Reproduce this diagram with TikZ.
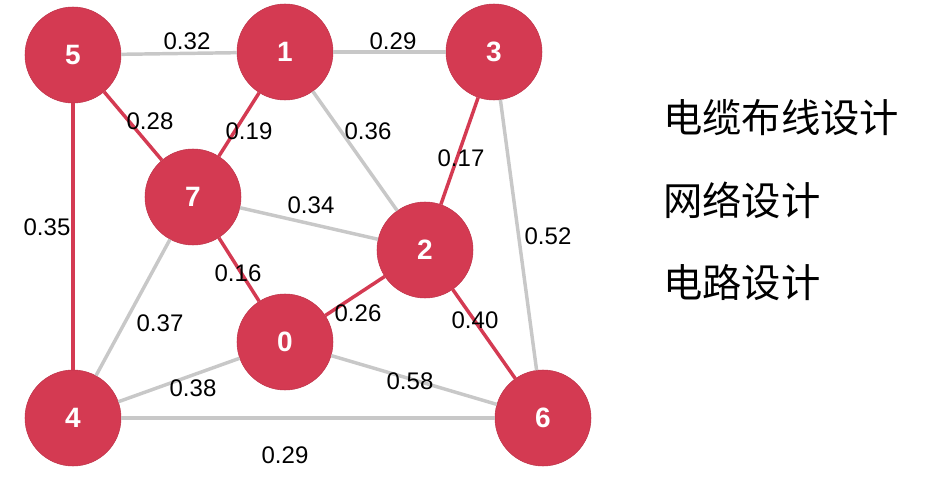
\documentclass[tikz,border=0pt]{standalone}
\usepackage{fontspec}
\setmainfont{Liberation Sans}
\newfontfamily\cjk{Noto Sans CJK SC}
\usepackage{tikz}
\definecolor{vred}{HTML}{D43A52}
\definecolor{egray}{HTML}{C8C8C8}
\tikzset{
  vertex/.style={circle, fill=vred, draw=vred!90!black, line width=0.4pt, minimum size=72pt, inner sep=0pt, text=white, font=\fontsize{21}{25}\selectfont\bfseries},
  light/.style={egray, line width=2.6pt},
  heavy/.style={vred, line width=2.6pt},
  weight/.style={font=\fontsize{18}{21}\selectfont, inner sep=1pt},
  task/.style={anchor=west, font=\cjk\fontsize{29.5}{34}\selectfont, inner sep=0pt}
}

\begin{document}
\begin{tikzpicture}[x=0.75pt, y=-0.75pt]
              \useasboundingbox (0,0) rectangle (936,481);
              % Nodi
              \node[vertex] (5) at (73, 55) {5};
              \node[vertex] (1) at (285, 52) {1};
              \node[vertex] (3) at (494, 52) {3};
              \node[vertex] (7) at (193, 197) {7};
              \node[vertex] (2) at (425, 250) {2};
              \node[vertex] (0) at (285, 342) {0};
              \node[vertex] (4) at (73, 418) {4};
              \node[vertex] (6) at (543, 418) {6};

              % Archi
              \draw[light] (5) -- (1);
              \draw[light] (1) -- (3);
              \draw[light] (1) -- (2);
              \draw[light] (3) -- (6);
              \draw[light] (7) -- (2);
              \draw[light] (7) -- (4);
              \draw[light] (0) -- (4);
              \draw[light] (0) -- (6);
              \draw[light] (4) -- (6);

              \draw[heavy] (5) -- (7);
              \draw[heavy] (1) -- (7);
              \draw[heavy] (3) -- (2);
              \draw[heavy] (5) -- (4);
              \draw[heavy] (7) -- (0);
              \draw[heavy] (0) -- (2);
              \draw[heavy] (2) -- (6);

              % Pesi
              \node[weight] (w51) at (187, 41) {0.32};
              \node[weight] (w13) at (393, 41) {0.29};
              \node[weight] (w57) at (150, 121) {0.28};
              \node[weight] (w17) at (249, 131) {0.19};
              \node[weight] (w12) at (368, 131) {0.36};
              \node[weight] (w32) at (461, 158) {0.17};
              \node[weight] (w72) at (311, 205) {0.34};
              \node[weight] (w54) at (47, 227) {0.35};
              \node[weight] (w36) at (548, 236) {0.52};
              \node[weight] (w70) at (238, 273) {0.16};
              \node[weight] (w74) at (160, 323) {0.37};
              \node[weight] (w02) at (358, 313) {0.26};
              \node[weight] (w26) at (475, 320) {0.40};
              \node[weight] (w04) at (193, 388) {0.38};
              \node[weight] (w06) at (410, 381) {0.58};
              \node[weight] (w46) at (285, 455) {0.29};

              % Applicazioni
              \node[task] (t1) at (663, 118) {电缆布线设计};
              \node[task] (t2) at (663, 200) {网络设计};
              \node[task] (t3) at (663, 283) {电路设计};
        \end{tikzpicture}
\end{document}
